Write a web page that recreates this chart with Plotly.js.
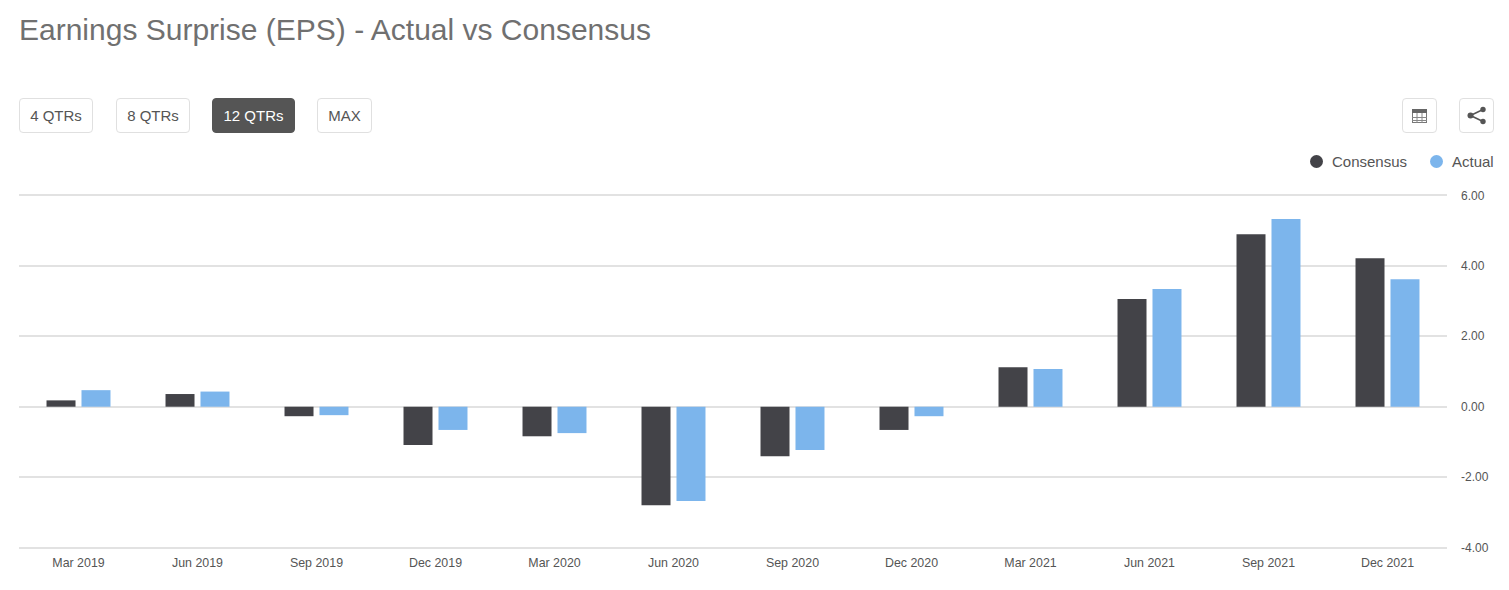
<!DOCTYPE html>
<html>
<head>
<meta charset="utf-8">
<script src="https://cdn.plot.ly/plotly-3.0.1.min.js"></script>
<style>
html,body{margin:0;padding:0;background:#fff;font-family:"Liberation Sans",Arial,sans-serif;}
#wrap{position:relative;width:1509px;height:590px;overflow:hidden;}
#chart{position:absolute;left:0;top:0;width:1509px;height:590px;}
.btn{position:absolute;top:98px;height:33px;line-height:34px;box-sizing:content-box;border:1px solid #e0e0e0;border-radius:4px;text-align:center;font-size:15px;color:#555;background:#fff;}
.btn.on{background:#555;border-color:#555;color:#fff;}
.icon{position:absolute;top:98px;width:33px;height:33px;border:1px solid #e0e0e0;border-radius:4px;background:#fff;}
.icon svg{position:absolute;left:0;top:0;}
.leg{position:absolute;top:153px;height:18px;line-height:18px;font-size:15px;color:#555;white-space:nowrap;}
.dot{position:absolute;top:155px;width:13px;height:13px;border-radius:50%;}
</style>
</head>
<body>
<div id="wrap">
<div id="chart"></div>
<div id="ui"></div>
</div>
<script>
var quarters = ["Mar 2019","Jun 2019","Sep 2019","Dec 2019","Mar 2020","Jun 2020","Sep 2020","Dec 2020","Mar 2021","Jun 2021","Sep 2021","Dec 2021"];
var consensus = [0.18,0.36,-0.27,-1.09,-0.84,-2.80,-1.41,-0.66,1.12,3.06,4.90,4.22];
var actual = [0.47,0.43,-0.24,-0.66,-0.75,-2.68,-1.23,-0.27,1.07,3.34,5.33,3.62];
var tickValues = [-4,-2,0,2,4,6];
var tickLabels = ["-4.00","-2.00","0.00","2.00","4.00","6.00"];
var rangeButtons = ["4 QTRs","8 QTRs","12 QTRs","MAX"];

var traces = [
  {type:"bar",name:"Consensus",x:quarters,y:consensus,marker:{color:"#434348"},hoverinfo:"x+y"},
  {type:"bar",name:"Actual",x:quarters,y:actual,marker:{color:"#7cb5ec"},hoverinfo:"x+y"}
];
var layout = {
  width:1509,height:590,
  margin:{l:19,r:62,t:193,b:40,pad:0},
  paper_bgcolor:"#fff",plot_bgcolor:"#fff",
  font:{family:'"Liberation Sans",Arial,sans-serif',size:12,color:"#555"},
  title:{text:"Earnings Surprise (EPS) - Actual vs Consensus",x:19/1509,xanchor:"left",xref:"container",
         y:1-29/590,yanchor:"middle",yref:"container",font:{size:30,color:"#707070"}},
  showlegend:false,
  barmode:"group",bargap:0.412,bargroupgap:0.171,
  xaxis:{type:"category",categoryorder:"array",categoryarray:quarters,showgrid:false,zeroline:false,showline:false,
         ticks:"",tickfont:{size:12.4,color:"#555"},ticklabelstandoff:4,tickangle:0,fixedrange:true},
  yaxis:{side:"right",range:[-4.07,6.07],tickmode:"array",tickvals:tickValues,ticktext:tickLabels,
         showgrid:true,gridcolor:"#e2e2e2",gridwidth:1.5,zeroline:true,zerolinecolor:"#e2e2e2",zerolinewidth:1.5,showline:false,
         ticks:"",tickfont:{size:12,color:"#555"},ticklabelstandoff:13,fixedrange:true}
};
Plotly.newPlot("chart",traces,layout,{displayModeBar:false,responsive:false});

var ui=document.getElementById("ui");
var btnBox=[[19,72],[116,72],[212,81],[317,53]];
rangeButtons.forEach(function(t,i){
  var d=document.createElement("div");
  d.className="btn"+(t==="12 QTRs"?" on":"");
  d.style.left=btnBox[i][0]+"px";
  d.style.width=btnBox[i][1]+"px";
  d.textContent=t;
  ui.appendChild(d);
});
function icon(left,svg){
  var d=document.createElement("div");d.className="icon";d.style.left=left+"px";
  d.innerHTML='<svg width="33" height="33" viewBox="0 0 33 33">'+svg+'</svg>';
  ui.appendChild(d);
}
icon(1402,'<rect x="9.5" y="10.5" width="14" height="13" fill="#fff" stroke="#777" stroke-width="1"/><rect x="9" y="10" width="15" height="4" fill="#666"/><path d="M9 18.5H24M9 21.5H24M14 14V24M19 14V24" stroke="#888" stroke-width="1" fill="none"/>');
icon(1459,'<path d="M10.5 16.5L23 10.5M10.5 16.5L23 22.5" stroke="#555" stroke-width="1.5" fill="none"/><circle cx="10.5" cy="16.5" r="3" fill="#555"/><circle cx="23" cy="10.5" r="2.7" fill="#555"/><circle cx="23" cy="22.5" r="2.7" fill="#555"/>');
function leg(dotX,textX,color,text){
  var a=document.createElement("div");a.className="dot";a.style.left=dotX+"px";a.style.background=color;ui.appendChild(a);
  var b=document.createElement("div");b.className="leg";b.style.left=textX+"px";b.textContent=text;ui.appendChild(b);
}
leg(1310,1332,"#434348",traces[0].name);
leg(1430,1452,"#7cb5ec",traces[1].name);
</script>
</body>
</html>
